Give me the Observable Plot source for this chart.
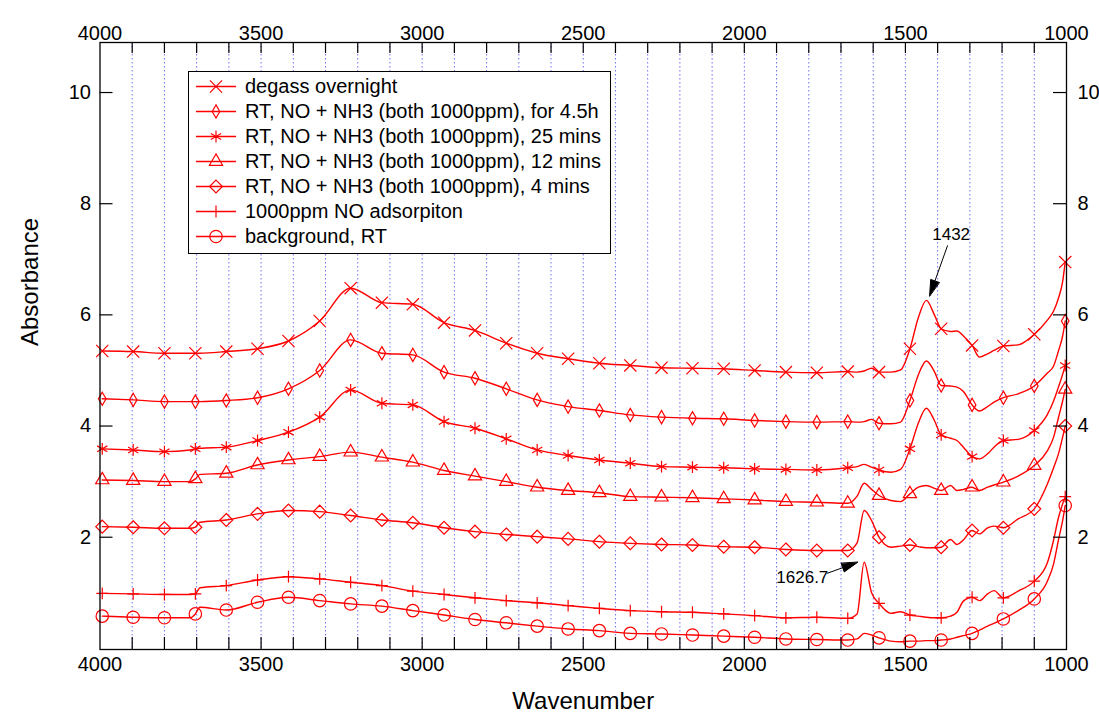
<!DOCTYPE html>
<html><head><meta charset="utf-8">
<script src="https://cdn.jsdelivr.net/npm/d3@7"></script>
<script src="https://cdn.jsdelivr.net/npm/@observablehq/plot@0.6"></script>
<style>
body{margin:0;background:#fff;font-family:"Liberation Sans",Arial,sans-serif;}
#wrap{position:relative;width:1099px;height:719px;}
#legend{position:absolute;left:188px;top:71px;border:1.3px solid #000;background:#fff;padding:2px 9px 4px 0;}
.row{display:flex;align-items:center;height:25px;font-size:20px;white-space:nowrap;color:#000;}
.row svg{flex:none;}
</style></head><body><div id="wrap"></div>
<script>
// ---- data ----
const wn = [3993,3897,3800,3720,3704,3690,3608,3511,3415,3318,3222,3125,3029,2932,2836,2739,2643,2547,2450,2354,2257,2161,2064,1968,1871,1775,1679,1650,1628,1605,1582,1545,1515,1486,1460,1435,1410,1389,1360,1340,1320,1293,1270,1245,1225,1196,1150,1100,1060,1040,1025,1012,1004];
const markerWn = [3993,3897,3800,3704,3608,3511,3415,3318,3222,3125,3029,2932,2836,2739,2643,2547,2450,2354,2257,2161,2064,1968,1871,1775,1679,1582,1486,1389,1293,1196,1100,1004];

const degass = [5.35,5.34,5.31,5.31,5.31,5.31,5.34,5.39,5.53,5.89,6.48,6.22,6.19,5.86,5.72,5.49,5.31,5.21,5.13,5.09,5.05,5.04,5.03,5.00,4.97,4.96,4.98,4.97,4.99,5.04,4.97,4.97,5.01,5.39,5.95,6.26,6.00,5.75,5.70,5.71,5.62,5.45,5.24,5.30,5.36,5.44,5.46,5.65,5.90,6.07,6.30,6.60,6.95];
const nh3_4h5 = [4.49,4.47,4.44,4.44,4.44,4.44,4.46,4.51,4.67,5.00,5.55,5.31,5.28,4.97,4.86,4.67,4.47,4.35,4.28,4.20,4.16,4.14,4.13,4.10,4.08,4.07,4.08,4.07,4.08,4.12,4.05,4.04,4.07,4.46,4.92,5.17,4.98,4.73,4.72,4.70,4.62,4.38,4.27,4.35,4.43,4.51,4.58,4.72,4.95,5.08,5.35,5.62,5.89];
const nh3_25m = [3.59,3.57,3.54,3.57,3.59,3.60,3.62,3.74,3.89,4.16,4.65,4.41,4.38,4.08,3.96,3.77,3.57,3.47,3.39,3.33,3.27,3.26,3.25,3.23,3.22,3.21,3.25,3.27,3.31,3.26,3.21,3.17,3.22,3.59,4.05,4.32,4.10,3.84,3.78,3.74,3.62,3.45,3.41,3.50,3.62,3.74,3.76,3.92,4.20,4.45,4.70,4.93,5.09];
const nh3_12m = [3.03,3.02,3.00,3.00,3.05,3.13,3.15,3.30,3.39,3.45,3.53,3.44,3.35,3.20,3.10,3.00,2.90,2.84,2.80,2.73,2.72,2.71,2.69,2.67,2.64,2.63,2.61,2.74,2.97,2.86,2.75,2.66,2.64,2.78,2.90,2.93,2.88,2.84,2.93,2.84,2.86,2.90,2.84,2.90,2.94,2.99,3.10,3.29,3.55,3.80,4.15,4.45,4.66];
const nh3_4m = [2.19,2.18,2.16,2.16,2.18,2.27,2.31,2.42,2.48,2.46,2.39,2.31,2.26,2.17,2.10,2.05,2.01,1.97,1.92,1.89,1.87,1.86,1.83,1.82,1.78,1.76,1.76,1.90,2.48,2.30,2.00,1.82,1.84,1.86,1.83,1.81,1.81,1.82,1.96,1.87,1.95,2.12,2.06,2.17,2.20,2.17,2.33,2.51,2.95,3.25,3.50,3.80,4.00];
const noAds = [0.99,0.98,0.97,0.97,0.98,1.09,1.13,1.23,1.29,1.25,1.19,1.13,1.03,0.97,0.91,0.86,0.82,0.77,0.72,0.68,0.66,0.65,0.62,0.59,0.55,0.56,0.54,0.62,1.55,1.00,0.81,0.63,0.66,0.60,0.58,0.56,0.55,0.55,0.58,0.65,0.85,0.92,0.86,0.98,1.04,0.91,1.03,1.21,1.53,1.95,2.35,2.60,2.73];
const background = [0.58,0.56,0.55,0.55,0.62,0.74,0.69,0.83,0.92,0.86,0.80,0.76,0.68,0.60,0.52,0.46,0.40,0.35,0.32,0.27,0.26,0.24,0.22,0.20,0.17,0.16,0.15,0.17,0.27,0.24,0.19,0.13,0.12,0.13,0.13,0.14,0.14,0.15,0.17,0.20,0.23,0.27,0.33,0.40,0.45,0.53,0.68,0.89,1.20,1.52,1.95,2.30,2.57];

const seriesNames = [
  "degass overnight",
  "RT, NO + NH3 (both 1000ppm), for 4.5h",
  "RT, NO + NH3 (both 1000ppm), 25 mins",
  "RT, NO + NH3 (both 1000ppm), 12 mins",
  "RT, NO + NH3 (both 1000ppm), 4 mins",
  "1000ppm NO adsorpiton",
  "background, RT"
];
const seriesValues = [degass, nh3_4h5, nh3_25m, nh3_12m, nh3_4m, noAds, background];
const seriesSymbols = ["times","diamond","asterisk","triangle","diamond2","plus","circle"];
const symbolR = [5.6, 4.0, 5.6, 4.9, 5.8, 3.9, 6.2];

const xLabelTicks = [4000,3500,3000,2500,2000,1500,1000];
const xMinorTicks = [3900,3800,3700,3600,3500,3400,3300,3200,3100,3000,2900,2800,2700,2600,2500,2400,2300,2200,2100,2000,1900,1800,1700,1600,1500,1400,1300,1200,1100];
const yTicks = [2,4,6,8,10];

const annLabels = ["1432","1626.7"];
const annTip = [[1425,6.34],[1648,1.55]];
const annTail = [[1369,7.25],[1743,1.35]];
const annText = [[1358,7.45],[1820,1.27]];

// ---- build ----
const W = 1099, H = 719, mL = 99.5, mR = 33, mT = 42, mB = 70;
const xDomain = [4000,1000], yDomain = [-0.02,10.9];
const plotW = W - mL - mR, plotH = H - mT - mB;
const RED = "#ff0000";

const rows = [];
seriesNames.forEach((s,k)=>wn.forEach((w,i)=>rows.push({series:s, wn:w, v:seriesValues[k][i]})));
const markerSet = new Set(markerWn);

const xs = Plot.scale({x:{domain:xDomain, range:[mL, W-mR]}});
const ys = Plot.scale({y:{domain:yDomain, range:[H-mB, mT]}});
const heads = [], links = [];
annLabels.forEach((lab,i)=>{
  const tx = xs.apply(annTip[i][0]), ty = ys.apply(annTip[i][1]);
  const sx = xs.apply(annTail[i][0]), sy = ys.apply(annTail[i][1]);
  const L = Math.hypot(tx-sx, ty-sy), ux=(tx-sx)/L, uy=(ty-sy)/L;
  const hl = 16, hw = 4.5;
  const bx = tx-ux*hl, by = ty-uy*hl;
  [[tx,ty],[bx-uy*hw, by+ux*hw],[bx+uy*hw, by-ux*hw]].forEach(p=>heads.push({ann:lab, x:xs.invert(p[0]), y:ys.invert(p[1])}));
  links.push({x1:annTail[i][0], y1:annTail[i][1], x2:xs.invert(bx), y2:ys.invert(by)});
});

const marks = [
  Plot.ruleX(xMinorTicks, {x:d=>d, stroke:"#4040ff", strokeOpacity:0.75, strokeDasharray:"1.5,2.5", strokeWidth:1}),
  Plot.line(rows, {x:"wn", y:"v", z:"series", stroke:RED, strokeWidth:1.4, curve:"monotone-x"})
];
seriesNames.forEach((s,k)=>{
  marks.push(Plot.dot(rows.filter(r=>r.series===s && markerSet.has(r.wn)),
    {x:"wn", y:"v", symbol:()=>seriesSymbols[k], r:symbolR[k], stroke:RED, fill:"none", strokeWidth:1.2}));
});
marks.push(
  Plot.frame({stroke:"black", strokeWidth:1.3}),
  Plot.ruleX(xMinorTicks, {x:d=>d, insetTop:plotH-12, stroke:"black", strokeWidth:1.2}),
  Plot.ruleX(xMinorTicks, {x:d=>d, insetBottom:plotH-11, stroke:"black", strokeWidth:1.2}),
  Plot.ruleY(yTicks, {y:d=>d, insetRight:plotW-13, stroke:"black", strokeWidth:1.2}),
  Plot.ruleY(yTicks, {y:d=>d, insetLeft:plotW-13, stroke:"black", strokeWidth:1.2}),
  Plot.text(xLabelTicks, {x:d=>d, text:d=>String(d), frameAnchor:"bottom", dy:21, fontSize:20, fill:"black"}),
  Plot.text(xLabelTicks, {x:d=>d, text:d=>String(d), frameAnchor:"top", dy:-17, fontSize:20, fill:"black"}),
  Plot.text(yTicks, {y:d=>d, text:d=>String(d), frameAnchor:"left", dx:-9, textAnchor:"end", fontSize:20, fill:"black"}),
  Plot.text(yTicks, {y:d=>d, text:d=>String(d), frameAnchor:"right", dx:11, textAnchor:"start", fontSize:20, fill:"black"}),
  Plot.text(["Wavenumber"], {frameAnchor:"bottom", dy:59, fontSize:24, fill:"black"}),
  Plot.text(["Absorbance"], {frameAnchor:"left", dx:-70, rotate:-90, fontSize:24, fill:"black"}),
  Plot.link(links, {x1:"x1", y1:"y1", x2:"x2", y2:"y2", stroke:"black", strokeWidth:1}),
  Plot.line(heads, {x:"x", y:"y", z:"ann", fill:"black", stroke:"black", strokeWidth:1, curve:"linear-closed"}),
  Plot.text(annLabels, {x:(d,i)=>annText[i][0], y:(d,i)=>annText[i][1], text:d=>d, fontSize:17, fill:"black"})
);

const chart = Plot.plot({
  width:W, height:H, marginLeft:mL, marginRight:mR, marginTop:mT, marginBottom:mB,
  x:{domain:xDomain, axis:null}, y:{domain:yDomain, axis:null},
  style:{fontFamily:'"Liberation Sans", Arial, sans-serif', background:"white", color:"black"},
  marks
});
const wrap = document.getElementById("wrap");
wrap.appendChild(chart);

// legend
const legend = document.createElement("div");
legend.id = "legend";
const symMap = {times:d3.symbolTimes, diamond:d3.symbolDiamond, asterisk:d3.symbolAsterisk, triangle:d3.symbolTriangle, diamond2:d3.symbolDiamond2, plus:d3.symbolPlus, circle:d3.symbolCircle};
seriesNames.forEach((s,k)=>{
  const row = document.createElement("div"); row.className = "row";
  const svg = d3.create("svg").attr("width",56).attr("height",25);
  svg.append("line").attr("x1",7).attr("x2",47).attr("y1",12.5).attr("y2",12.5).attr("stroke",RED).attr("stroke-width",1.4);
  svg.append("path").attr("transform","translate(27,12.5)")
    .attr("d", d3.symbol().type(symMap[seriesSymbols[k]]).size(Math.PI*symbolR[k]*symbolR[k])())
    .attr("stroke",RED).attr("fill","none").attr("stroke-width",1.2);
  row.appendChild(svg.node());
  const t = document.createElement("span"); t.textContent = s; row.appendChild(t);
  legend.appendChild(row);
});
wrap.appendChild(legend);
</script></body></html>
